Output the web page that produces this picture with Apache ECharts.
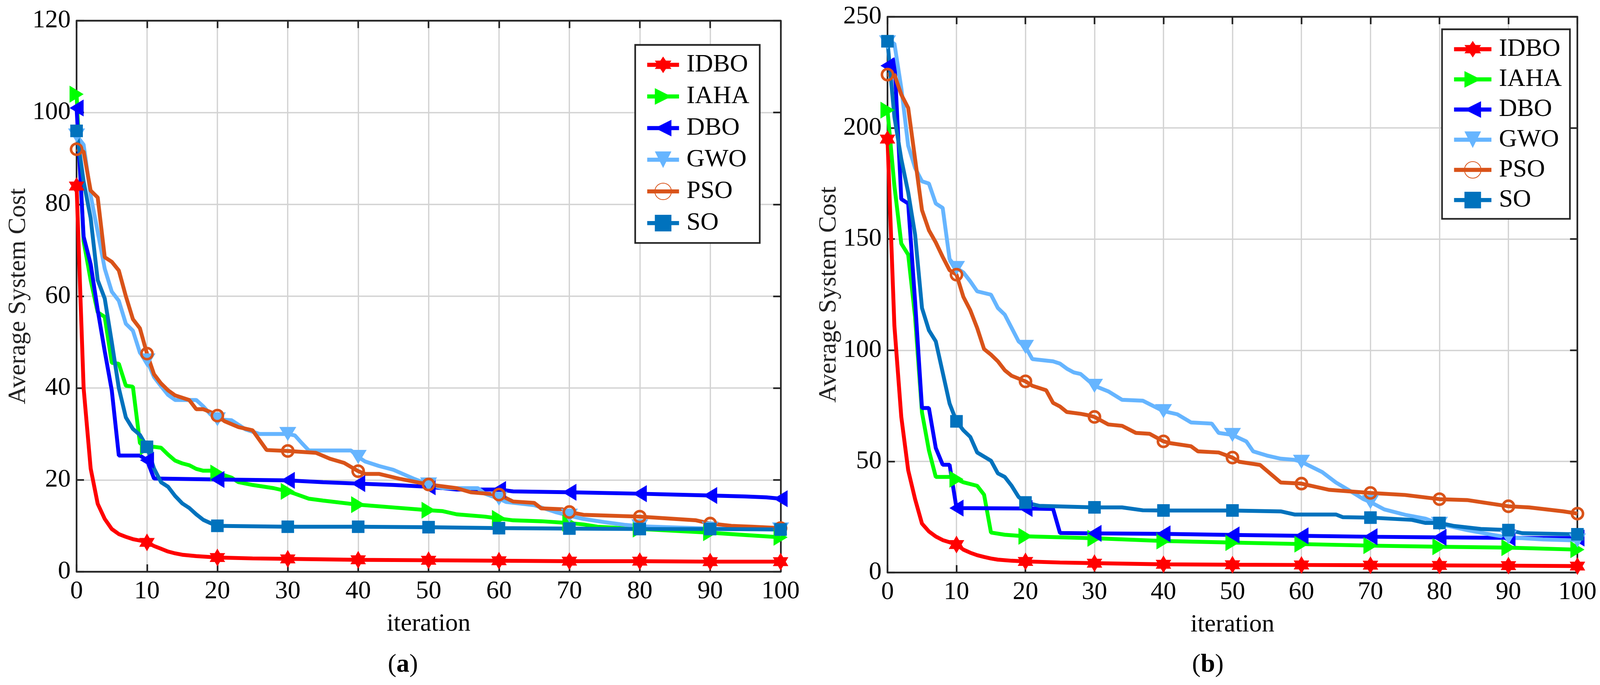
<!DOCTYPE html>
<html>
<head>
<meta charset="utf-8">
<script src="https://cdn.jsdelivr.net/npm/echarts@6/dist/echarts.min.js"></script>
<style>
  html, body { margin: 0; padding: 0; background: #fff; overflow: hidden; }
  #chart { width: 100vw; height: 100vh; }
</style>
</head>
<body>
<div id="chart"></div>
<script>
const names = ['IDBO', 'IAHA', 'DBO', 'GWO', 'PSO', 'SO'];
const colors = ['#ff0000', '#00ff00', '#0000ff', '#66b5ff', '#d95319', '#0072bd'];
const xTicks = [0, 100, 10];
const yTicksA = [0, 120, 20];
const yTicksB = [0, 250, 50];

// (a) [iteration, cost]
const idboA = [[0,84],[1,40],[2,22.5],[3,14.8],[4,11.5],[5,9.3],[6,8.2],[7,7.6],[8,7.1],[9,6.8],[10,6.4],[11,5.6],[12,5],[13,4.4],[14,4],[15,3.7],[17,3.4],[20,3.1],[25,2.9],[30,2.8],[40,2.6],[50,2.5],[60,2.4],[70,2.3],[80,2.3],[90,2.2],[100,2.2]];
const iahaA = [[0,104],[1,72],[2,63.5],[3,56.5],[4,55.5],[5,45.5],[6,45.3],[7,40.5],[8,40.3],[9,28],[10,27.2],[11,27.2],[12,27],[13,25.5],[14,24.2],[15,23.6],[16,23.2],[17,22.4],[18,22],[19,22],[20,21.5],[21,21],[22,20.5],[23,19.5],[25,18.9],[28,18.2],[30,17.5],[31,17],[33,15.9],[35,15.5],[40,14.6],[45,14],[50,13.4],[52,13.2],[54,12.5],[58,12],[60,11.6],[62,11.2],[66,11],[70,10.6],[72,10.3],[74,9.8],[80,9.3],[85,8.9],[90,8.5],[95,8],[100,7.5]];
const dboA = [[0,101],[1,73],[2,67],[3,57],[4,48],[5,39.5],[6,25.3],[9,25.3],[10,24.3],[11,20.3],[20,20.1],[30,19.9],[35,19.5],[40,19.2],[45,18.9],[50,18.5],[54,17.9],[60,17.9],[62,17.5],[70,17.3],[80,17],[85,16.8],[90,16.6],[95,16.4],[98,16.2],[100,15.9]];
const gwoA = [[0,95],[1,93],[2,82],[3,74],[4,66],[5,61],[6,59],[7,54],[8,52.5],[9,47.7],[10,46],[11,42.4],[12,40.4],[13,38.5],[14,37.4],[17,37.4],[18,36],[19,34.3],[20,33.2],[22,33],[23,32],[24,31],[26,30],[30,30],[31,29.7],[32,28],[33,26.4],[39,26.4],[40,25],[41,24],[43,23],[45,22.2],[48,20.2],[50,19],[52,18.2],[57,18.2],[58,17],[60,15.9],[61,15.2],[65,14.5],[66,14],[68,13],[70,12.2],[72,11.5],[75,10.8],[78,10.2],[80,9.9],[90,9.4],[100,9.2]];
const psoA = [[0,92],[1,91.5],[2,83],[3,81.5],[4,68.5],[5,67.5],[6,65.6],[7,60],[8,55],[9,53],[10,47.5],[11,43],[12,41],[13,39.5],[14,38.4],[16,37.4],[17,35.4],[18,35.4],[19,34.8],[20,34],[21,32.8],[23,31.5],[25,30.8],[27,26.5],[30,26.3],[34,25.9],[36,24.6],[38,23.7],[40,21.9],[41,21.3],[43,21.3],[46,20.2],[50,19],[54,18.2],[56,17.3],[60,16.8],[62,15.3],[65,15],[66,13.8],[69,13.6],[70,13],[72,12.4],[80,12],[85,11.5],[88,11.2],[90,10.5],[93,10],[96,9.8],[100,9.5]];
const soA = [[0,96],[1,85],[2,77],[3,63.5],[4,59.5],[5,50],[6,40],[7,33.6],[8,31.1],[9,29.8],[10,27.2],[11,22.5],[12,19.5],[13,18.5],[14,16.5],[15,14.9],[16,13.9],[17,12.5],[18,11.3],[19,10.6],[20,10],[30,9.8],[40,9.8],[50,9.7],[60,9.5],[70,9.4],[80,9.3],[90,9.3],[100,9.2]];

// (b) [iteration, cost]
const idboB = [[0,195],[1,111],[2,70],[3,46],[4,33],[5,22],[6,18.5],[7,16.2],[8,14.6],[9,13.6],[10,12.6],[11,10.3],[12,8.9],[13,7.8],[14,7],[15,6.3],[16,5.8],[18,5.3],[20,5],[25,4.5],[30,4.2],[40,3.7],[50,3.5],[60,3.4],[70,3.3],[80,3.2],[90,3.1],[100,2.9]];
const iahaB = [[0,208],[1,174],[2,148],[3,143],[4,115],[5,72],[6,55],[7,43],[9,43],[10,42],[11,40.6],[13,39],[14,35],[15,18],[17,17],[20,16.3],[30,15.4],[40,14.2],[50,13.5],[60,12.8],[70,12.1],[80,11.6],[90,11.2],[100,10.3]];
const dboB = [[0,228],[1,231],[2,168],[3,166],[4,122],[5,74],[6,74],[7,56],[8,48.5],[9,48.5],[10,29],[20,28.8],[24,28.6],[25,17.8],[30,17.6],[40,17.4],[50,16.9],[60,16.5],[70,16.1],[80,15.8],[90,15.6],[100,15.5]];
const gwoB = [[0,238.5],[1,238],[2,218],[3,192],[4,182],[5,176],[6,175],[7,166],[8,164],[9,141],[10,137],[11,135],[12,131],[13,126.5],[15,125],[16,119],[17,116],[18,110],[19,104],[20,101.5],[21,96],[24,95],[25,94],[26,91.7],[27,90],[28,89.3],[30,84],[32,81.5],[34,77.7],[37,77.3],[40,72.6],[42,71.2],[44,67.5],[47,67],[48,62.8],[50,61.9],[52,59],[53,54.5],[55,52.6],[57,51.2],[59,50.7],[60,49.8],[63,45.2],[65,40.5],[67,36.8],[69,33],[70,31.7],[72,28.4],[75,26],[78,24.2],[80,21.9],[84,19.1],[88,16.8],[90,15.8],[95,14.9],[100,14.4]];
const psoB = [[0,224],[1,224],[2,215],[3,209],[4,186],[5,163],[6,154],[7,148.5],[8,142],[9,136],[10,134],[11,124],[12,118],[13,110],[14,100.5],[15,98],[16,95],[17,91],[18,88.5],[20,86],[21,84],[23,82],[24,76.3],[25,74.7],[26,72.2],[28,71.4],[29,70.8],[30,70],[32,66.6],[34,66],[36,62.8],[38,62.4],[40,59],[41,58.2],[44,56.8],[45,54.5],[48,54],[50,51.7],[51,49.8],[54,48.4],[57,40.5],[60,40],[64,37.2],[70,35.8],[75,34.9],[80,33],[84,32.6],[87,31.2],[90,29.8],[93,29.3],[98,27.5],[100,26.5]];
const soB = [[0,239],[1,205],[2,186],[3,171],[4,152],[5,119],[6,109],[7,104],[8,90],[9,76],[10,68],[11,64],[12,61],[13,54],[15,50.3],[16,44.6],[17,43],[18,39],[19,34],[20,31.5],[22,30],[30,29.3],[34,29.3],[37,28],[40,27.9],[50,27.9],[57,27.5],[59,26.1],[65,26.1],[66,24.9],[70,24.7],[76,23.7],[78,22.3],[80,22.3],[82,21],[86,19.6],[90,19.1],[92,17.7],[100,17.2]];

const hexagram = 'path://M100 0L128.9 50L186.6 50L157.7 100L186.6 150L128.9 150L100 200L71.1 150L13.4 150L42.3 100L13.4 50L71.1 50Z';
const triRight = 'path://M0 0L100 55L0 110Z';
const triLeft = 'path://M100 0L0 55L100 110Z';
const triDown = 'path://M0 0L110 0L55 100Z';
const symbols = [hexagram, triRight, triLeft, triDown, 'circle', 'rect'];
const symbolSizes = [[42, 48], [38, 46], [38, 46], [46, 38], [30, 30], [34, 34]];

const font = 'Liberation Serif';
const axisColor = '#262626';

// layout is drawn for a 4325 x 1754 page, scaled to the real viewport
const sx = window.innerWidth / 4325;
const sy = window.innerHeight / 1754;
const sm = Math.min(sx, sy);
const X = v => v * sx;
const Y = v => v * sy;
const S = v => v * sm;

window.chart = echarts.init(document.getElementById('chart'));

function makeSeries(list, axisIdx) {
    return list.map((data, i) => ({
        name: names[i],
        type: 'line',
        xAxisIndex: axisIdx,
        yAxisIndex: axisIdx,
        data: data,
        symbol: symbols[i],
        showAllSymbol: true,
        symbolSize: v => (v[0] % 10 === 0 ? symbolSizes[i].map(S) : 0),
        lineStyle: { color: colors[i], width: S(10.5) },
        // PSO uses an open ring: no fill, thick orange edge
        itemStyle: i === 4
            ? { color: 'rgba(255,255,255,0)', borderColor: colors[i], borderWidth: S(7) }
            : { color: colors[i], borderWidth: 0 },
        emphasis: { disabled: true },
        animation: false
    }));
}

function mainX(grid) {
    return {
        gridIndex: grid, type: 'value', min: xTicks[0], max: xTicks[1], interval: xTicks[2],
        position: 'bottom',
        name: 'iteration', nameLocation: 'middle', nameGap: Y(102),
        nameTextStyle: { fontFamily: font, fontSize: S(68), color: '#000' },
        axisLine: { onZero: false, lineStyle: { color: axisColor, width: S(4.5) } },
        axisTick: { inside: true, length: S(20), lineStyle: { color: axisColor, width: S(4.5) } },
        axisLabel: { fontFamily: font, fontSize: S(69), color: '#000', margin: Y(18) },
        splitLine: { show: true, lineStyle: { color: '#d3d3d3', width: S(3.5) } }
    };
}
function topX(grid) {
    return {
        gridIndex: grid, type: 'value', min: xTicks[0], max: xTicks[1], interval: xTicks[2],
        position: 'top',
        axisLine: { onZero: false, lineStyle: { color: axisColor, width: S(4.5) } },
        axisTick: { inside: true, length: S(20), lineStyle: { color: axisColor, width: S(4.5) } },
        axisLabel: { show: false },
        splitLine: { show: false }
    };
}
function mainY(grid, t) {
    return {
        gridIndex: grid, type: 'value', min: t[0], max: t[1], interval: t[2],
        position: 'left',
        name: 'Average System Cost', nameLocation: 'middle', nameGap: X(124),
        nameTextStyle: { fontFamily: font, fontSize: S(68), color: '#222' },
        axisLine: { show: true, onZero: false, lineStyle: { color: axisColor, width: S(4.5) } },
        axisTick: { show: true, inside: true, length: S(20), lineStyle: { color: axisColor, width: S(4.5) } },
        axisLabel: { fontFamily: font, fontSize: S(69), color: '#000', margin: X(16) },
        splitLine: { show: true, lineStyle: { color: '#d3d3d3', width: S(3.5) } }
    };
}
function rightY(grid, t) {
    return {
        gridIndex: grid, type: 'value', min: t[0], max: t[1], interval: t[2],
        position: 'right',
        axisLine: { show: true, onZero: false, lineStyle: { color: axisColor, width: S(4.5) } },
        axisTick: { show: true, inside: true, length: S(20), lineStyle: { color: axisColor, width: S(4.5) } },
        axisLabel: { show: false },
        splitLine: { show: false }
    };
}

function legendAt(left, top, itemWidth, gap, pad) {
    return {
        data: names, orient: 'vertical', left: X(left), top: Y(top),
        itemWidth: S(itemWidth), itemHeight: S(56), itemGap: S(gap),
        padding: pad.map(S),
        backgroundColor: '#fff', borderColor: axisColor, borderWidth: S(4.5),
        selectedMode: false,
        lineStyle: { width: S(11) },
        textStyle: { fontFamily: font, fontSize: S(68), lineHeight: S(67), color: '#000', padding: [0, 0, 0, S(15)] }
    };
}

function caption(x, letter) {
    return {
        type: 'text', x: X(x), y: Y(1703),
        style: {
            text: '{n|(}{b|' + letter + '}{n|)}', align: 'center', verticalAlign: 'middle',
            rich: {
                n: { fontFamily: font, fontSize: S(70), fill: '#000' },
                b: { fontFamily: font, fontSize: S(70), fontWeight: 'bold', fill: '#000' }
            }
        }
    };
}

function getOptions() {
    return {
        animation: false,
        grid: [
            { left: X(207), top: Y(53), width: X(1903), height: Y(1411) },
            { left: X(2399), top: Y(43), width: X(1865), height: Y(1423) }
        ],
        xAxis: [mainX(0), topX(0), mainX(1), topX(1)],
        yAxis: [mainY(0, yTicksA), rightY(0, yTicksA), mainY(1, yTicksB), rightY(1, yTicksB)],
        legend: [
            legendAt(1717, 115, 86, 18, [20, 28, 20, 27]),
            legendAt(3898, 75, 101, 14, [20, 22, 17, 27])
        ],
        graphic: [caption(1089, 'a'), caption(3265, 'b')],
        series: [
            ...makeSeries([idboA, iahaA, dboA, gwoA, psoA, soA], 0),
            ...makeSeries([idboB, iahaB, dboB, gwoB, psoB, soB], 2)
        ]
    };
}

window.chart.setOption(getOptions());

window.addEventListener('resize', () => {
    window.chart.resize();
});
</script>
</body>
</html>
